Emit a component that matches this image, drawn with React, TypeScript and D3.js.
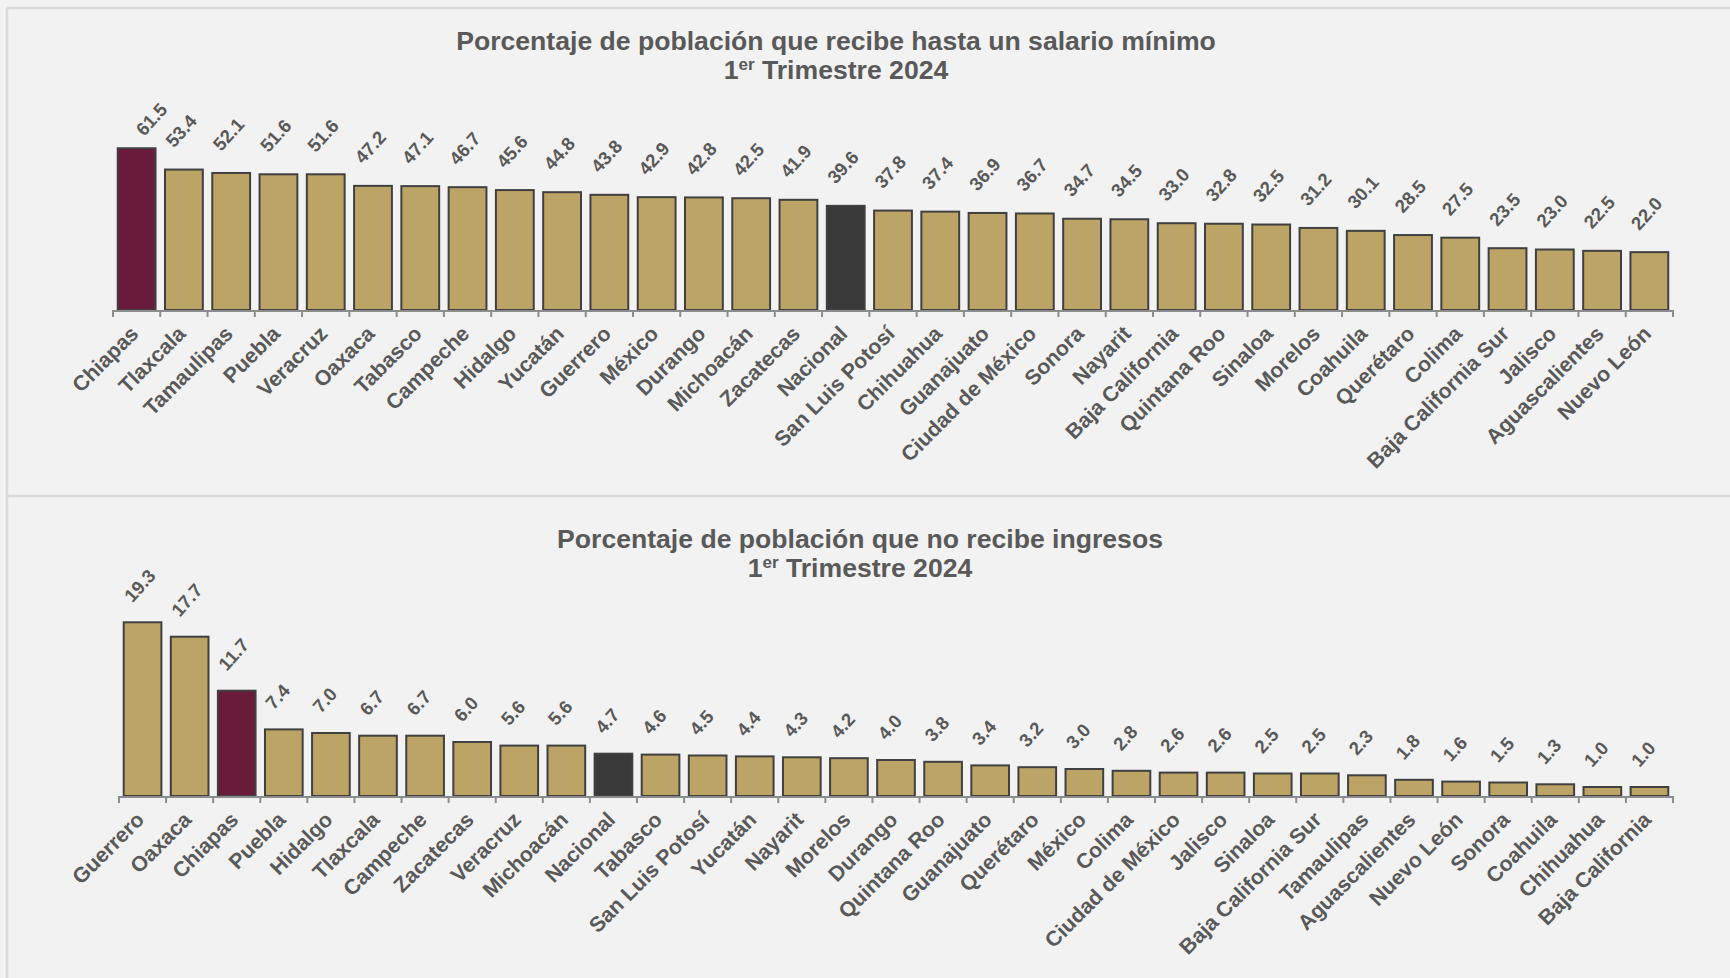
import * as d3 from 'd3';

const salarioCategorias = [
  'Chiapas', 'Tlaxcala', 'Tamaulipas', 'Puebla', 'Veracruz', 'Oaxaca', 'Tabasco',
  'Campeche', 'Hidalgo', 'Yucatán', 'Guerrero', 'México', 'Durango', 'Michoacán',
  'Zacatecas', 'Nacional', 'San Luis Potosí', 'Chihuahua', 'Guanajuato',
  'Ciudad de México', 'Sonora', 'Nayarit', 'Baja California', 'Quintana Roo',
  'Sinaloa', 'Morelos', 'Coahuila', 'Querétaro', 'Colima', 'Baja California Sur',
  'Jalisco', 'Aguascalientes', 'Nuevo León',
];
const salarioValores = [
  61.5, 53.4, 52.1, 51.6, 51.6, 47.2, 47.1, 46.7, 45.6, 44.8, 43.8, 42.9, 42.8, 42.5,
  41.9, 39.6, 37.8, 37.4, 36.9, 36.7, 34.7, 34.5, 33.0, 32.8, 32.5, 31.2, 30.1, 28.5,
  27.5, 23.5, 23.0, 22.5, 22.0,
];

const ingresosCategorias = [
  'Guerrero', 'Oaxaca', 'Chiapas', 'Puebla', 'Hidalgo', 'Tlaxcala', 'Campeche',
  'Zacatecas', 'Veracruz', 'Michoacán', 'Nacional', 'Tabasco', 'San Luis Potosí',
  'Yucatán', 'Nayarit', 'Morelos', 'Durango', 'Quintana Roo', 'Guanajuato',
  'Querétaro', 'México', 'Colima', 'Ciudad de México', 'Jalisco', 'Sinaloa',
  'Baja California Sur', 'Tamaulipas', 'Aguascalientes', 'Nuevo León', 'Sonora',
  'Coahuila', 'Chihuahua', 'Baja California',
];
const ingresosValores = [
  19.3, 17.7, 11.7, 7.4, 7.0, 6.7, 6.7, 6.0, 5.6, 5.6, 4.7, 4.6, 4.5, 4.4, 4.3, 4.2,
  4.0, 3.8, 3.4, 3.2, 3.0, 2.8, 2.6, 2.6, 2.5, 2.5, 2.3, 1.8, 1.6, 1.5, 1.3, 1.0, 1.0,
];

const FONT = '"Liberation Sans", Arial, sans-serif';
const TEXT = '#595959';
const GOLD = '#BBA465';
const MAROON = '#6A1A3A';
const DARK = '#3A3A3A';

function barColor(c: string) {
  if (c === 'Chiapas') return MAROON;
  if (c === 'Nacional') return DARK;
  return GOLD;
}

interface PanelProps {
  categories: string[];
  values: number[];
  title: string;
  titleX: number;
  titleY: number;
  x0: number;
  x1: number;
  base: number;
  yMax: number;
  yTop: number;
  labelGap: number;
  labelMinY: number;
}

function Panel({ categories, values, title, titleX, titleY, x0, x1, base, yMax, yTop, labelGap, labelMinY }: PanelProps) {
  const x = d3.scaleBand<string>().domain(categories).range([x0, x1]).paddingInner(0.2).paddingOuter(0.1);
  const y = d3.scaleLinear().domain([0, yMax]).range([base, yTop]);
  // ticks sit on the category boundaries
  const ticks = d3.range(categories.length + 1).map((i) => x0 + i * ((x1 - x0) / categories.length));

  return (
    <g fontFamily={FONT}>
      <text x={titleX} y={titleY} textAnchor="middle" fontSize={26.6} fontWeight="bold" fill={TEXT}>
        {title}
      </text>
      <text x={titleX} y={titleY + 29} textAnchor="middle" fontSize={26.6} fontWeight="bold" fill={TEXT}>
        1<tspan fontSize={17} dy={-9}>er</tspan>
        <tspan dy={9}> Trimestre 2024</tspan>
      </text>

      {categories.map((c, i) => {
        const top = y(values[i]);
        return (
          <rect key={c} x={x(c)!} y={top} width={x.bandwidth()} height={base - top}
            fill={barColor(c)} stroke="#404040" strokeWidth={2} />
        );
      })}

      <line x1={x0} x2={x1} y1={base + 1} y2={base + 1} stroke="#8C8C8C" strokeWidth={2} />
      {ticks.map((t, i) => (
        <line key={i} x1={t} x2={t} y1={base} y2={base + 7} stroke="#8C8C8C" strokeWidth={2} />
      ))}

      {categories.map((c, i) => {
        const cx = x(c)! + x.bandwidth() / 2;
        let ly = y(values[i]) - labelGap;
        let lx = cx - 10;
        // labels that would run into the title are pushed down and to the right
        const dy = Math.max(0, labelMinY - ly);
        ly += dy;
        lx += dy * 1.8;
        return (
          <text key={c} transform={`translate(${lx},${ly}) rotate(-48)`} fontSize={18.5}
            fontWeight="bold" fill={TEXT}>
            {values[i].toFixed(1)}
          </text>
        );
      })}

      {categories.map((c) => {
        const cx = x(c)! + x.bandwidth() / 2;
        return (
          <text key={c} transform={`translate(${cx + 3},${base + 25}) rotate(-45)`} fontSize={21.3}
            fontWeight="bold" fill={TEXT} textAnchor="end">
            {c}
          </text>
        );
      })}
    </g>
  );
}

export default function App() {
  return (
    <svg width={1730} height={978} style={{ position: 'absolute', left: 0, top: 0, display: 'block' }}>
      <rect x={0} y={0} width={1730} height={978} fill="#F2F2F2" />
      <line x1={7} x2={1730} y1={8} y2={8} stroke="#D9D9D9" strokeWidth={2.5} />
      <line x1={7} x2={7} y1={8} y2={978} stroke="#D9D9D9" strokeWidth={2.5} />
      <line x1={7} x2={1730} y1={496} y2={496} stroke="#D9D9D9" strokeWidth={2.5} />

      <Panel categories={salarioCategorias} values={salarioValores}
        title="Porcentaje de población que recibe hasta un salario mínimo"
        titleX={836} titleY={50} x0={113} x1={1673} base={310} yMax={70} yTop={310 - 70 * 2.63}
        labelGap={21} labelMinY={137} />

      <Panel categories={ingresosCategorias} values={ingresosValores}
        title="Porcentaje de población que no recibe ingresos"
        titleX={860} titleY={548} x0={119} x1={1673} base={796} yMax={20} yTop={796 - 20 * 9.0}
        labelGap={19} labelMinY={0} />
    </svg>
  );
}
